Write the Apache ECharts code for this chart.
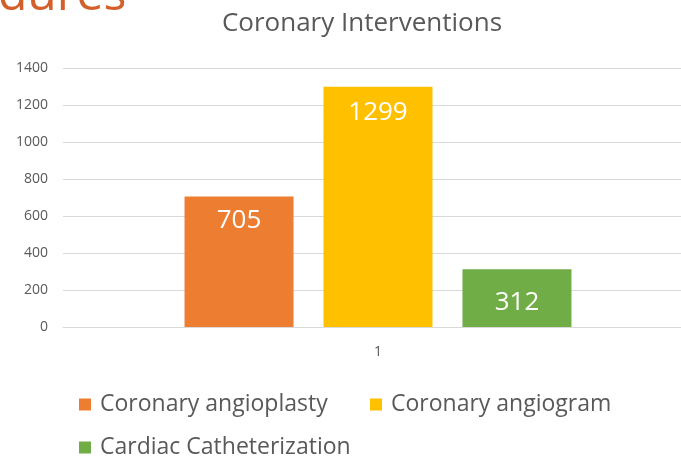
<!DOCTYPE html>
<html>
<head>
<meta charset="utf-8">
<title>Coronary Interventions</title>
<script src="https://cdn.jsdelivr.net/npm/echarts@6/dist/echarts.min.js"></script>
<style>
* { margin: 0; padding: 0 }
html, body { width: 100%; height: 100%; background: #fff; overflow: hidden; }
/* plot runs past the right edge of the picture */
#main { width: 693px; height: 463px; }
</style>
</head>
<body>
<div id="main"></div>
<script>
// data
var categories = ['1'];
var seriesNames = ['Coronary angioplasty', 'Coronary angiogram', 'Cardiac Catheterization'];
var angioplasty = [705];
var angiogram = [1299];
var catheterization = [312];
var seriesColors = ['#ED7D31', '#FFC000', '#70AD47'];

var font = '"Open Sans", "Noto Sans", sans-serif';
var chart = echarts.init(document.getElementById('main'));

function barSeries(name, data, color, labelDist) {
	return {
		name: name,
		type: 'bar',
		data: data,
		barWidth: 109,
		barGap: '27.5%',
		itemStyle: { color: color },
		label: {
			show: true,
			position: 'insideTop',
			distance: labelDist,
			color: '#fff',
			fontSize: 26,
			fontFamily: font
		}
	};
}

// one legend per entry so that each sits where it does in the picture
function legendItem(name, left, top) {
	return {
		data: [name],
		left: left,
		top: top,
		itemWidth: 12,
		itemHeight: 12,
		icon: 'rect',
		textStyle: { color: '#595959', fontSize: 23, fontFamily: font, padding: [0, 0, 0, 4] }
	};
}

chart.setOption({
	animation: false,
	title: {
		text: 'Coronary Interventions',
		left: 357,
		textAlign: 'center',
		top: 6,
		textStyle: { color: '#595959', fontSize: 26, fontWeight: 'normal', fontFamily: font }
	},
	graphic: [{
		type: 'text',
		left: -2,
		top: -28,
		style: { text: 'dures', fill: '#D35F2A', fontSize: 48, fontFamily: font }
	}],
	legend: [
		legendItem(seriesNames[0], 74, 388),
		legendItem(seriesNames[1], 365, 388),
		legendItem(seriesNames[2], 74, 431)
	],
	grid: { left: 63, right: 0, top: 68, height: 259 },
	xAxis: {
		type: 'category',
		data: categories,
		axisLine: { lineStyle: { color: '#d9d9d9' } },
		axisTick: { show: false },
		axisLabel: { color: '#595959', fontSize: 14, margin: 18, fontFamily: font }
	},
	yAxis: {
		type: 'value',
		min: 0,
		max: 1400,
		interval: 200,
		axisLabel: {
			color: '#595959',
			fontSize: 14,
			margin: 15,
			fontFamily: font,
			formatter: function (v) { return String(v); }
		},
		splitLine: { lineStyle: { color: '#d9d9d9' } }
	},
	series: [
		barSeries(seriesNames[0], angioplasty, seriesColors[0], 11),
		barSeries(seriesNames[1], angiogram, seriesColors[1], 13),
		barSeries(seriesNames[2], catheterization, seriesColors[2], 20)
	]
});
</script>
</body>
</html>
